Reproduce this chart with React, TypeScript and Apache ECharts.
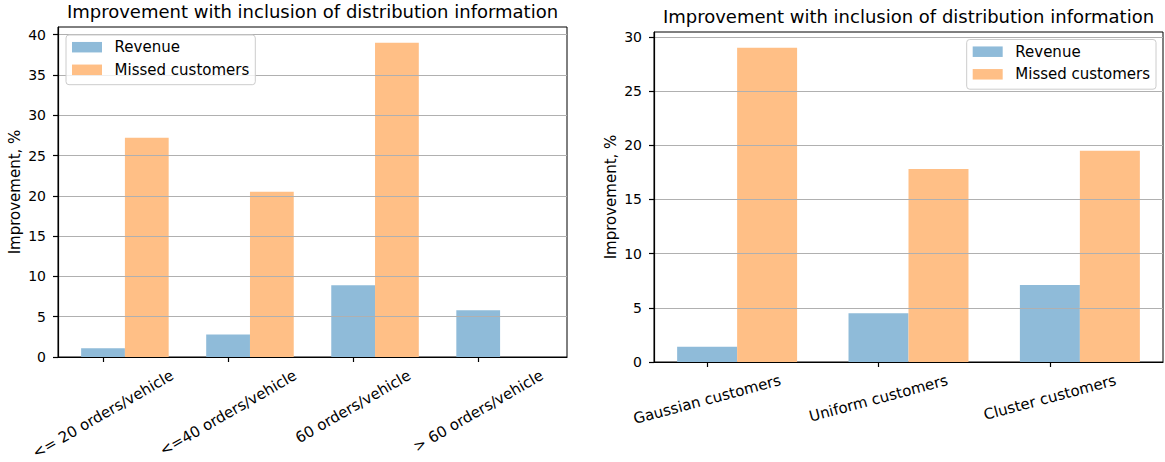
import { useEffect, useRef } from "react";
import * as echarts from "echarts";

// ---- data ----
const leftCategories = [
  "<= 20 orders/vehicle",
  "<=40 orders/vehicle",
  "60 orders/vehicle",
  "> 60 orders/vehicle",
];
const leftRevenue = [1.1, 2.8, 8.9, 5.8];
const leftMissed = [27.2, 20.5, 39.0, 0];
const leftYTicks = [0, 5, 10, 15, 20, 25, 30, 35, 40];

const rightCategories = ["Gaussian customers", "Uniform customers", "Cluster customers"];
const rightRevenue = [1.4, 4.5, 7.1];
const rightMissed = [29.0, 17.8, 19.5];
const rightYTicks = [0, 5, 10, 15, 20, 25, 30];

const seriesNames = ["Revenue", "Missed customers"];
const chartTitle = "Improvement with inclusion of distribution information";
const yAxisTitle = "Improvement, %";

// ---- styling ----
const FONT = '"DejaVu Sans", "Noto Sans", sans-serif';
const BAR_W = 0.35;
const COLORS = ["#8fbbd9", "#ffbf86"];
const TICK_LEN = 5;
const TICK_PAD = 5.3;
const XLABEL_SIZE = 15;

type Panel = {
  categories: string[];
  revenue: number[];
  missed: number[];
  yTicks: number[];
  rotate: number;
  grid: { left: number; top: number; width: number; height: number };
  legend: Record<string, number>;
};

const panels: Panel[] = [
  {
    categories: leftCategories,
    revenue: leftRevenue,
    missed: leftMissed,
    yTicks: leftYTicks,
    rotate: 30,
    grid: { left: 58, top: 27, width: 509, height: 330 },
    legend: { left: 66, top: 35 },
  },
  {
    categories: rightCategories,
    revenue: rightRevenue,
    missed: rightMissed,
    yTicks: rightYTicks,
    rotate: 15,
    grid: { left: 654, top: 32, width: 509, height: 330 },
    legend: { right: 9, top: 39.5 },
  },
];

// x limits the way matplotlib pads a grouped bar chart by 5%
function xLimits(n: number): [number, number] {
  const lo = -BAR_W / 2;
  const hi = n - 1 + BAR_W * 1.5;
  const pad = 0.05 * (hi - lo);
  return [lo - pad, hi + pad];
}

function barSeries(p: Panel, k: number, values: number[], slot: number) {
  return {
    type: "custom",
    name: seriesNames[slot],
    xAxisIndex: k,
    yAxisIndex: k,
    itemStyle: { color: COLORS[slot] },
    encode: { x: 0, y: 1 },
    data: values.map((v, i) => [i, v]),
    renderItem: (_params: any, api: any) => {
      const c = api.value(0) + slot * BAR_W;
      const v = api.value(1);
      const p0 = api.coord([c - BAR_W / 2, v]);
      const p1 = api.coord([c + BAR_W / 2, 0]);
      return {
        type: "rect",
        shape: { x: p0[0], y: p0[1], width: p1[0] - p0[0], height: p1[1] - p0[1] },
        style: { fill: COLORS[slot] },
      };
    },
  };
}

export default function App() {
  const ref = useRef<HTMLDivElement>(null);

  useEffect(() => {
    if (!ref.current) return;
    const chart = echarts.init(ref.current, undefined, { renderer: "svg" });

    const option: any = {
      animation: false,
      backgroundColor: "#ffffff",
      textStyle: { fontFamily: FONT },
      title: panels.map((p) => ({
        text: chartTitle,
        left: p.grid.left + p.grid.width / 2,
        top: p.grid.top - 25,
        textAlign: "center",
        padding: 0,
        textStyle: { fontFamily: FONT, fontSize: 18, fontWeight: "normal", color: "#000" },
      })),
      legend: panels.map((p) => ({
        ...p.legend,
        orient: "vertical",
        data: seriesNames,
        icon: "rect",
        itemWidth: 30,
        itemHeight: 10.5,
        itemGap: 7.6,
        padding: [4.7, 6, 7.4, 6],
        borderColor: "#cccccc",
        borderWidth: 1,
        borderRadius: 3,
        backgroundColor: "rgba(255,255,255,0.8)",
        selectedMode: false,
        textStyle: {
          fontFamily: FONT,
          fontSize: 15,
          color: "#000",
          lineHeight: 14,
          padding: [0, 0, 0, 7.6],
        },
      })),
      grid: panels.map((p) => ({
        ...p.grid,
        show: true,
        borderColor: "#000",
        borderWidth: 1,
        backgroundColor: "transparent",
      })),
      xAxis: panels.map((p, k) => {
        const [lo, hi] = xLimits(p.categories.length);
        const idx = p.categories.map((_c, i) => i);
        return {
          type: "value",
          gridIndex: k,
          min: lo,
          max: hi,
          z: 3,
          axisLine: { show: true, onZero: false, lineStyle: { color: "#000", width: 1.2 } },
          axisTick: { show: true, length: TICK_LEN, customValues: idx, lineStyle: { color: "#000", width: 1.2 } },
          axisLabel: { show: false },
          splitLine: { show: false },
        };
      }),
      yAxis: panels.map((p, k) => {
        const top = Math.max(...p.revenue, ...p.missed) * 1.05;
        return {
          type: "value",
          gridIndex: k,
          min: 0,
          max: top,
          interval: 5,
          z: 3,
          name: yAxisTitle,
          nameLocation: "middle",
          nameGap: 36,
          nameRotate: 90,
          nameTextStyle: { fontFamily: FONT, fontSize: 15, color: "#000" },
          axisLine: { show: true, onZero: false, lineStyle: { color: "#000", width: 1.2 } },
          axisTick: { show: true, length: TICK_LEN, customValues: p.yTicks, lineStyle: { color: "#000", width: 1.2 } },
          axisLabel: {
            customValues: p.yTicks,
            fontFamily: FONT,
            fontSize: 14,
            color: "#000",
            margin: 12,
          },
          splitLine: { show: true, lineStyle: { color: "#b0b0b0", width: 1 } },
        };
      }),
      series: panels.flatMap((p, k) => [
        barSeries(p, k, p.revenue, 0),
        barSeries(p, k, p.missed, 1),
      ]),
    };

    chart.setOption(option);

    // Rotated category labels, centred under each tick like matplotlib's ha="center"
    const ctx = document.createElement("canvas").getContext("2d")!;
    ctx.font = `${XLABEL_SIZE}px "DejaVu Sans"`;
    const graphics: any[] = [];
    panels.forEach((p, k) => {
      const th = (p.rotate * Math.PI) / 180;
      p.categories.forEach((cat, i) => {
        const pt = chart.convertToPixel({ gridIndex: k }, [i, 0]) as number[];
        const L = ctx.measureText(cat).width;
        const H = XLABEL_SIZE * 1.05;
        const boxH = L * Math.sin(th) + H * Math.cos(th);
        graphics.push({
          type: "text",
          x: pt[0],
          y: pt[1] + TICK_LEN + TICK_PAD + boxH / 2,
          rotation: th,
          style: {
            text: cat,
            fontFamily: FONT,
            fontSize: XLABEL_SIZE,
            fill: "#000",
            align: "center",
            verticalAlign: "middle",
          },
        });
      });
    });
    chart.setOption({ graphic: graphics });

    return () => chart.dispose();
  }, []);

  return (
    <div
      ref={ref}
      style={{ position: "fixed", left: 0, top: 0, width: 1165, height: 462, background: "#fff" }}
    />
  );
}
